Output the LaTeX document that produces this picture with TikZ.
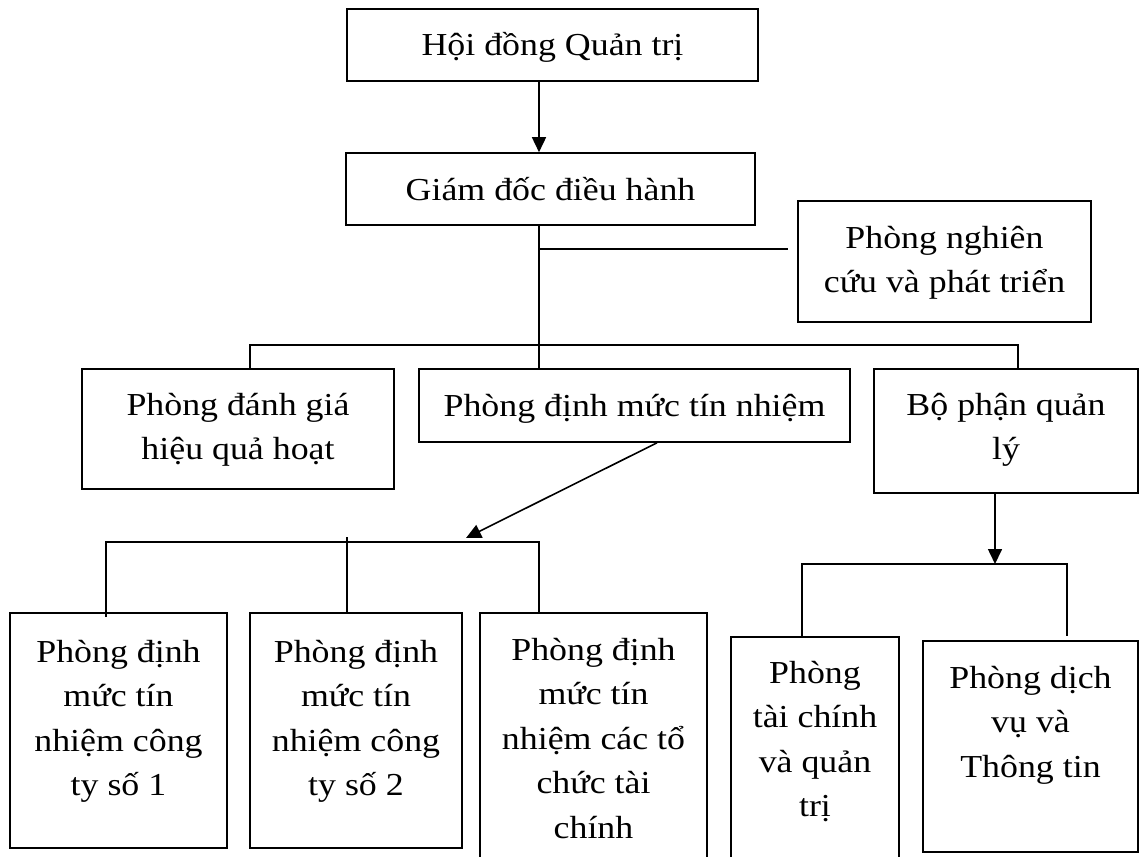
\documentclass[tikz,border=0pt]{standalone}
\usepackage{fontspec}
\setmainfont{Liberation Serif}[FakeStretch=1.12]
\usetikzlibrary{arrows.meta}
\newcommand\vnstrut{\rule{0pt}{40pt}}
\begin{document}
\begin{tikzpicture}[x=1pt,y=-1pt, line width=1.6pt,
  box/.style={draw, rectangle, inner sep=0pt, line width=1.6pt},
  txt/.style={align=center, inner sep=0pt, anchor=north, font=\fontsize{32}{44.5}\selectfont},
  arr/.style={-{Triangle[length=15pt,width=14pt]}}]
\clip (0,0) rectangle (1139,856);
\fill[white] (0,0) rectangle (1139,856);

% boxes
\node[box, minimum width=411pt, minimum height=72pt] (hdqt) at (552.5,45) {};
\node[box, minimum width=409pt, minimum height=72pt] (gd) at (550.5,189) {};
\node[box, minimum width=293pt, minimum height=121pt] (nc) at (944.5,261.5) {};
\node[box, minimum width=312pt, minimum height=120pt] (danhgia) at (238,429) {};
\node[box, minimum width=431pt, minimum height=73pt] (dinhmuc) at (634.5,405.5) {};
\node[box, minimum width=264pt, minimum height=124pt] (bophan) at (1006,431) {};
\node[box, minimum width=217pt, minimum height=235pt] (A) at (118.5,730.5) {};
\node[box, minimum width=212pt, minimum height=235pt] (B) at (356,730.5) {};
\node[box, minimum width=227pt, minimum height=262pt] (C) at (593.5,744) {};
\node[box, minimum width=168pt, minimum height=238pt] (TC) at (815,756) {};
\node[box, minimum width=215pt, minimum height=211pt] (DV) at (1030.5,746.5) {};

% texts
\node[txt] (hdqtT) at ([yshift=-7pt]hdqt.north) {\vnstrut Hội đồng Quản trị};
\node[txt] (gdT) at ([yshift=-7pt]gd.north) {\vnstrut Giám đốc điều hành};
\node[txt] (ncT) at ([yshift=-7pt]nc.north) {\vnstrut Phòng nghiên\\cứu và phát triển};
\node[txt] (danhgiaT) at ([yshift=-6pt]danhgia.north) {\vnstrut Phòng đánh giá\\hiệu quả hoạt};
\node[txt] (dinhmucT) at ([yshift=-7pt]dinhmuc.north) {\vnstrut Phòng định mức tín nhiệm};
\node[txt] (bophanT) at ([yshift=-6pt]bophan.north) {\vnstrut Bộ phận quản\\lý};
\node[txt] (AT) at ([yshift=-9pt]A.north) {\vnstrut Phòng định\\mức tín\\nhiệm công\\ty số 1};
\node[txt] (BT) at ([yshift=-9pt]B.north) {\vnstrut Phòng định\\mức tín\\nhiệm công\\ty số 2};
\node[txt] (CT) at ([yshift=-7pt]C.north) {\vnstrut Phòng định\\mức tín\\nhiệm các tổ\\chức tài\\chính};
\node[txt] (TCT) at ([yshift=-6pt]TC.north) {\vnstrut Phòng\\tài chính\\và quản\\trị};
\node[txt] (DVT) at ([yshift=-7pt]DV.north) {\vnstrut Phòng dịch\\vụ và\\Thông tin};

% connectors
\coordinate (spine) at (539,0);
\draw[arr] (hdqt.south -| spine) -- (gd.north -| spine);
\coordinate (j1) at (539,249);
\coordinate (ncend) at (788,249);
\coordinate (bus1) at (539,345);
\draw (gd.south -| spine) -- (bus1);
\draw (j1) -- (ncend);
\coordinate (b1L) at (250,345);
\coordinate (b1R) at (1018,345);
\draw (danhgia.north -| b1L) -- (b1L) -- (b1R) -- (bophan.north -| b1R);
\draw (bus1) -- (dinhmuc.north -| bus1);

\coordinate (tip2) at (466,538);
\draw[arr] ([xshift=22.5pt]dinhmuc.south) -- (tip2);
\coordinate (b2L) at (106,542);
\coordinate (b2R) at (539,542);
\coordinate (b2M) at (347,537);
\draw ([yshift=-5pt]A.north -| b2L) -- (b2L) -- (b2R) -- (C.north -| b2R);
\draw (b2M) -- (B.north -| b2M);

\coordinate (b3) at (995,564);
\draw[arr] (bophan.south -| b3) -- (b3);
\coordinate (b3L) at (802,564);
\coordinate (b3R) at (1067,564);
\draw (TC.north -| b3L) -- (b3L) -- (b3R) -- ([yshift=4pt]DV.north -| b3R);
\end{tikzpicture}
\end{document}
